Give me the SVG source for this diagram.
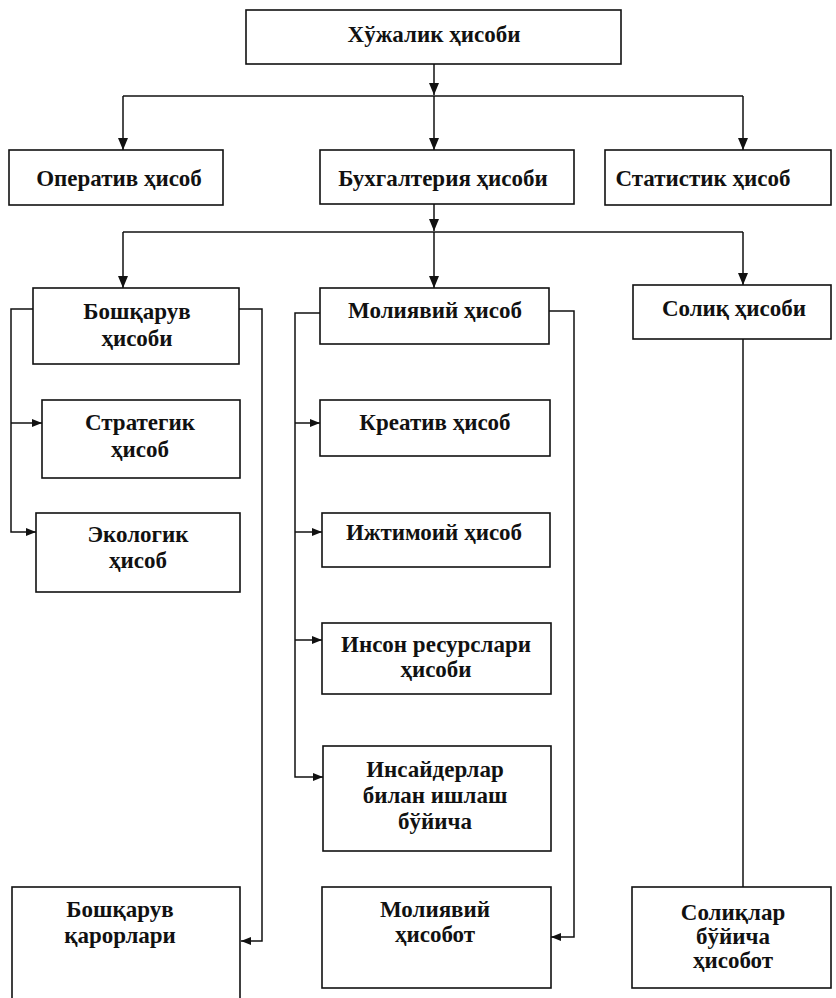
<svg xmlns="http://www.w3.org/2000/svg" width="836" height="998" viewBox="0 0 836 998">
  <style>
    .box { fill: #ffffff; stroke: #111111; stroke-width: 1.6; }
    .lbl { font-family: "Liberation Serif", "DejaVu Serif", serif; font-weight: bold; font-size: 23px; fill: #111111; text-anchor: middle; }
    .ln { fill: none; stroke: #111111; stroke-width: 1.5; }
  </style>
  <defs>
    <marker id="arr" viewBox="0 0 12 10" refX="12" refY="5" markerWidth="12" markerHeight="10" markerUnits="userSpaceOnUse" orient="auto">
      <path d="M0 0 L12 5 L0 10 Z" fill="#111111"/>
    </marker>
    <marker id="arr-s" viewBox="0 0 10 8" refX="10" refY="4" markerWidth="10" markerHeight="8" markerUnits="userSpaceOnUse" orient="auto">
      <path d="M0 0 L10 4 L0 8 Z" fill="#111111"/>
    </marker>
  </defs>

  <!-- connectors -->
  <g id="connectors">
    <path class="ln" d="M434 64 V95" marker-end="url(#arr)"/>
    <path class="ln" d="M123 96 H743"/>
    <path class="ln" d="M123 96 V150" marker-end="url(#arr)"/>
    <path class="ln" d="M434 96 V150" marker-end="url(#arr)"/>
    <path class="ln" d="M743 96 V150" marker-end="url(#arr)"/>

    <path class="ln" d="M434 204 V231" marker-end="url(#arr)"/>
    <path class="ln" d="M123 232 H743"/>
    <path class="ln" d="M123 232 V288" marker-end="url(#arr)"/>
    <path class="ln" d="M434 232 V288" marker-end="url(#arr)"/>
    <path class="ln" d="M743 232 V285" marker-end="url(#arr)"/>

    <!-- management accounting branch -->
    <path class="ln" d="M33 309 H11 V532 H36" marker-end="url(#arr-s)"/>
    <path class="ln" d="M11 423 H42" marker-end="url(#arr-s)"/>
    <path class="ln" d="M239 309 H262 V941 H241" marker-end="url(#arr-s)"/>

    <!-- financial accounting branch -->
    <path class="ln" d="M320 313 H295 V777 H323" marker-end="url(#arr-s)"/>
    <path class="ln" d="M295 423 H320" marker-end="url(#arr-s)"/>
    <path class="ln" d="M295 532 H322" marker-end="url(#arr-s)"/>
    <path class="ln" d="M295 640 H322" marker-end="url(#arr-s)"/>
    <path class="ln" d="M549 311 H574 V937 H551" marker-end="url(#arr-s)"/>

    <!-- tax accounting branch -->
    <path class="ln" d="M743 339 V887"/>
  </g>

  <g id="n-xojalik">
    <rect class="box" x="246" y="10" width="375" height="54"/>
    <text class="lbl" x="434" y="42">Хўжалик ҳисоби</text>
  </g>
  <g id="n-operativ">
    <rect class="box" x="9" y="150" width="214" height="55"/>
    <text class="lbl" x="119" y="186">Оператив ҳисоб</text>
  </g>
  <g id="n-buxgalteriya">
    <rect class="box" x="320" y="150" width="254" height="54"/>
    <text class="lbl" x="443" y="186">Бухгалтерия ҳисоби</text>
  </g>
  <g id="n-statistik">
    <rect class="box" x="605" y="150" width="226" height="55"/>
    <text class="lbl" x="703" y="186">Статистик ҳисоб</text>
  </g>

  <g id="n-boshqaruv">
    <rect class="box" x="33" y="288" width="206" height="76"/>
    <text class="lbl" x="137" y="319">Бошқарув</text>
    <text class="lbl" x="137" y="346">ҳисоби</text>
  </g>
  <g id="n-moliyaviy">
    <rect class="box" x="320" y="288" width="229" height="56"/>
    <text class="lbl" x="435" y="318">Молиявий ҳисоб</text>
  </g>
  <g id="n-soliq">
    <rect class="box" x="633" y="285" width="198" height="54"/>
    <text class="lbl" x="734" y="316">Солиқ ҳисоби</text>
  </g>

  <g id="n-strategik">
    <rect class="box" x="42" y="400" width="198" height="78"/>
    <text class="lbl" x="140" y="430">Стратегик</text>
    <text class="lbl" x="140" y="457">ҳисоб</text>
  </g>
  <g id="n-ekologik">
    <rect class="box" x="36" y="513" width="204" height="79"/>
    <text class="lbl" x="138" y="542">Экологик</text>
    <text class="lbl" x="138" y="568">ҳисоб</text>
  </g>

  <g id="n-kreativ">
    <rect class="box" x="320" y="400" width="230" height="56"/>
    <text class="lbl" x="435" y="430">Креатив ҳисоб</text>
  </g>
  <g id="n-ijtimoiy">
    <rect class="box" x="322" y="513" width="228" height="54"/>
    <text class="lbl" x="434" y="540">Ижтимоий ҳисоб</text>
  </g>
  <g id="n-inson">
    <rect class="box" x="322" y="623" width="229" height="71"/>
    <text class="lbl" x="436" y="652">Инсон ресурслари</text>
    <text class="lbl" x="436" y="677">ҳисоби</text>
  </g>
  <g id="n-insayder">
    <rect class="box" x="323" y="746" width="228" height="105"/>
    <text class="lbl" x="435" y="777">Инсайдерлар</text>
    <text class="lbl" x="435" y="803">билан ишлаш</text>
    <text class="lbl" x="435" y="829">бўйича</text>
  </g>

  <g id="n-qarorlar">
    <rect class="box" x="12" y="887" width="228" height="120"/>
    <text class="lbl" x="120" y="917">Бошқарув</text>
    <text class="lbl" x="120" y="943">қарорлари</text>
  </g>
  <g id="n-hisobot">
    <rect class="box" x="322" y="887" width="229" height="101"/>
    <text class="lbl" x="435" y="917">Молиявий</text>
    <text class="lbl" x="435" y="942">ҳисобот</text>
  </g>
  <g id="n-soliq-hisobot">
    <rect class="box" x="632" y="887" width="199" height="101"/>
    <text class="lbl" x="733" y="920">Солиқлар</text>
    <text class="lbl" x="733" y="944">бўйича</text>
    <text class="lbl" x="733" y="968">ҳисобот</text>
  </g>
</svg>
